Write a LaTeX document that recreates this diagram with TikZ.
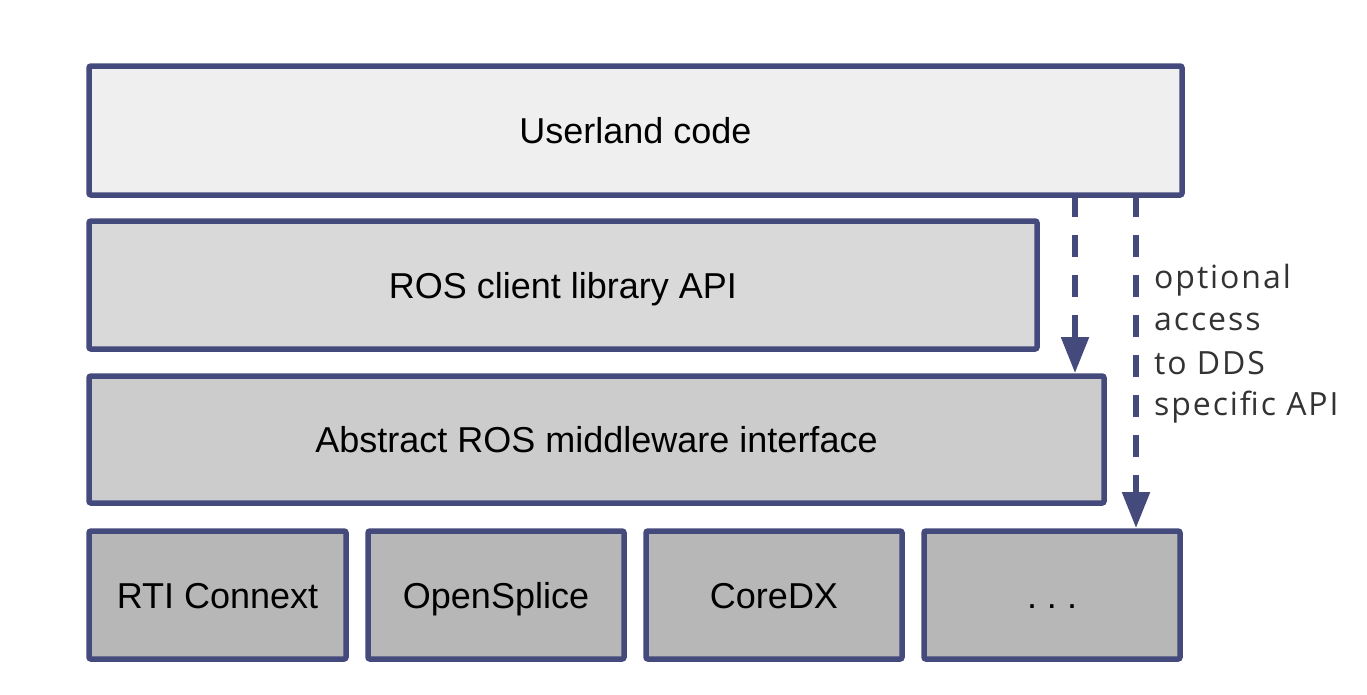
\documentclass[tikz,border=0pt]{standalone}
\usepackage{fontspec}
\setmainfont{Liberation Sans}
\newfontfamily\notefont[LetterSpace=6]{Open Sans}
\usetikzlibrary{arrows.meta}
\definecolor{edgec}{RGB}{69,74,124}
\definecolor{fillU}{HTML}{EFEFEF}
\definecolor{fillR}{HTML}{D9D9D9}
\definecolor{fillA}{HTML}{CCCCCC}
\definecolor{fillB}{HTML}{B7B7B7}
\definecolor{notec}{HTML}{333333}
\tikzset{
  layer/.style={draw=edgec, line width=5.5pt, rounded corners=2pt, rectangle,
    inner sep=0pt, outer sep=0pt, text height=26pt, text depth=0pt,
    font=\fontsize{36}{43}\selectfont, text=black},
  dasharrow/.style={draw=edgec, line width=5.5pt, dash pattern=on 22pt off 18pt,
    -{Triangle[length=36pt,width=27pt]}, shorten >=3pt},
  notetext/.style={anchor=base west, inner sep=0pt, text=notec,
    font=\notefont\fontsize{32}{42}\selectfont}
}
\begin{document}
\begin{tikzpicture}[x=1pt,y=-1pt]
\useasboundingbox (0,0) rectangle (1367,694);
\node[layer, fill=fillU, minimum width=1093pt, minimum height=129pt] (U) at (635.5,130.5) {Userland code};
\node[layer, fill=fillR, minimum width=948pt, minimum height=128pt] (R) at (563,285) {ROS client library API};
\node[layer, fill=fillA, minimum width=1015pt, minimum height=127pt] (A) at (596.5,439.5) {Abstract ROS middleware interface};
\node[layer, fill=fillB, minimum width=257pt, minimum height=128pt] (B1) at (217.5,595) {RTI Connext};
\node[layer, fill=fillB, minimum width=256pt, minimum height=128pt] (B2) at (496,595) {OpenSplice};
\node[layer, fill=fillB, minimum width=256pt, minimum height=128pt] (B3) at (774,595) {CoreDX};
\node[layer, fill=fillB, minimum width=256pt, minimum height=128pt] (B4) at (1052,595) {.\ .\ .};
\coordinate (xa) at (1075,0);
\coordinate (xb) at (1136,0);
\draw[dasharrow] (U.south -| xa) -- (A.north -| xa);
\draw[dasharrow] (U.south -| xb) -- (B4.north -| xb);
\node[notetext] (n1) at (1154,288) {optional};
\node[notetext] (n2) at (1154,330) {access};
\node[notetext] (n3) at (1154,374) {to DDS};
\node[notetext] (n4) at (1154,415) {specific API};
\end{tikzpicture}
\end{document}
